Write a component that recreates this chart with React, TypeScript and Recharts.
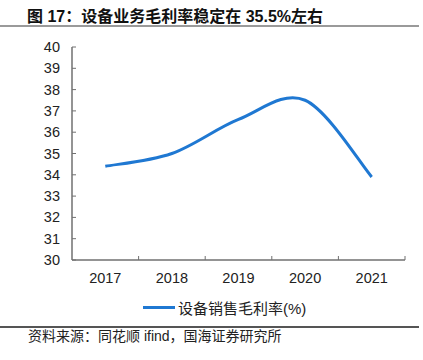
import React from "react";
import { LineChart, Line, XAxis, YAxis } from "recharts";

// values
const years = [2017, 2018, 2019, 2020, 2021];
const grossMargin = [34.4, 35.0, 36.6, 37.5, 33.9];
const yTicks = [30, 31, 32, 33, 34, 35, 36, 37, 38, 39, 40];

const seriesName = "设备销售毛利率(%)";
const title = "图 17：设备业务毛利率稳定在 35.5%左右";
const source = "资料来源：同花顺 ifind，国海证券研究所";

const data = years.map((year, i) => ({ year, value: grossMargin[i] }));

const CHART_W = 423;
const CHART_H = 270;
const MARGIN = { top: 17, right: 18, left: 0, bottom: 0 };
const Y_AXIS_W = 72;
const X_AXIS_H = 40;
const AXIS_X = MARGIN.left + Y_AXIS_W;
const AXIS_Y = CHART_H - MARGIN.bottom - X_AXIS_H;
const PLOT_W = CHART_W - MARGIN.right - AXIS_X;
const HALF_BAND = PLOT_W / years.length / 2;

const LINE_COLOR = "#1f78d2";
const AXIS_COLOR = "#707070";
const LABEL_FONT = '"Liberation Sans", Arial, sans-serif';
const CJK_FONT = '"Liberation Sans", "Noto Sans CJK SC", sans-serif';

// Excel-style smoothed line (Catmull-Rom through the points)
const excelSpline = (context: any) => {
  let pts: number[][] = [];
  return {
    areaStart() {},
    areaEnd() {},
    lineStart() {
      pts = [];
    },
    point(x: number, y: number) {
      pts.push([+x, +y]);
    },
    lineEnd() {
      const n = pts.length;
      if (!n) return;
      context.moveTo(pts[0][0], pts[0][1]);
      for (let i = 0; i < n - 1; i++) {
        const p0 = pts[Math.max(i - 1, 0)];
        const p1 = pts[i];
        const p2 = pts[i + 1];
        const p3 = pts[Math.min(i + 2, n - 1)];
        context.bezierCurveTo(
          p1[0] + (p2[0] - p0[0]) / 6,
          p1[1] + (p2[1] - p0[1]) / 6,
          p2[0] - (p3[0] - p1[0]) / 6,
          p2[1] - (p3[1] - p1[1]) / 6,
          p2[0],
          p2[1]
        );
      }
    },
  };
};

const YTick = ({ y, payload }: any) => (
  <g>
    <line x1={AXIS_X} x2={AXIS_X + 4} y1={y} y2={y} stroke={AXIS_COLOR} />
    <text
      x={AXIS_X - 12}
      y={y}
      textAnchor="end"
      dominantBaseline="central"
      fontSize={14.5}
      fill="#222"
      fontFamily={LABEL_FONT}
    >
      {payload.value}
    </text>
  </g>
);

const XTick = ({ x, payload }: any) => (
  <g>
    <line x1={x + HALF_BAND} x2={x + HALF_BAND} y1={AXIS_Y} y2={AXIS_Y - 4} stroke={AXIS_COLOR} />
    <text
      x={x}
      y={AXIS_Y + 18}
      textAnchor="middle"
      dominantBaseline="central"
      fontSize={14.5}
      fill="#222"
      fontFamily={LABEL_FONT}
    >
      {payload.value}
    </text>
  </g>
);

export default function App() {
  return (
    <div
      style={{
        position: "absolute",
        left: 0,
        top: 0,
        width: 423,
        height: 360,
        background: "#fff",
        overflow: "hidden",
      }}
    >
      <div
        style={{
          position: "absolute",
          left: 27,
          top: 7,
          fontSize: 16,
          fontWeight: "bold",
          fontFamily: CJK_FONT,
          color: "#111",
          whiteSpace: "nowrap",
          lineHeight: "20px",
        }}
      >
        {title}
      </div>
      <div style={{ position: "absolute", left: 0, top: 25, width: 419, height: 2, background: "#9a9a9a" }} />

      <div style={{ position: "absolute", left: 0, top: 30 }}>
        <LineChart width={CHART_W} height={CHART_H} data={data} margin={MARGIN}>
          <XAxis
            dataKey="year"
            type="number"
            domain={[years[0] - 0.5, years[years.length - 1] + 0.5]}
            ticks={years}
            height={X_AXIS_H}
            tickLine={false}
            axisLine={{ stroke: AXIS_COLOR, strokeWidth: 1.5 }}
            tick={<XTick />}
            interval={0}
          />
          <YAxis
            domain={[30, 40]}
            ticks={yTicks}
            width={Y_AXIS_W}
            tickLine={false}
            axisLine={{ stroke: AXIS_COLOR, strokeWidth: 1.5 }}
            tick={<YTick />}
            interval={0}
          />
          <Line
            type={excelSpline as any}
            dataKey="value"
            name={seriesName}
            stroke={LINE_COLOR}
            strokeWidth={3}
            dot={false}
            activeDot={false}
            isAnimationActive={false}
          />
        </LineChart>
      </div>

      <div
        style={{
          position: "absolute",
          left: 143,
          top: 296,
          display: "flex",
          alignItems: "center",
          height: 22,
          whiteSpace: "nowrap",
        }}
      >
        <div style={{ width: 32, height: 3, background: LINE_COLOR, marginRight: 3 }} />
        <span style={{ fontSize: 15, fontFamily: CJK_FONT, color: "#222" }}>{seriesName}</span>
      </div>

      <div style={{ position: "absolute", left: 0, top: 326, width: 419, height: 1.5, background: "#555" }} />
      <div
        style={{
          position: "absolute",
          left: 28,
          top: 327,
          fontSize: 14,
          fontFamily: CJK_FONT,
          color: "#222",
          whiteSpace: "nowrap",
          lineHeight: "18px",
        }}
      >
        {source}
      </div>
    </div>
  );
}
